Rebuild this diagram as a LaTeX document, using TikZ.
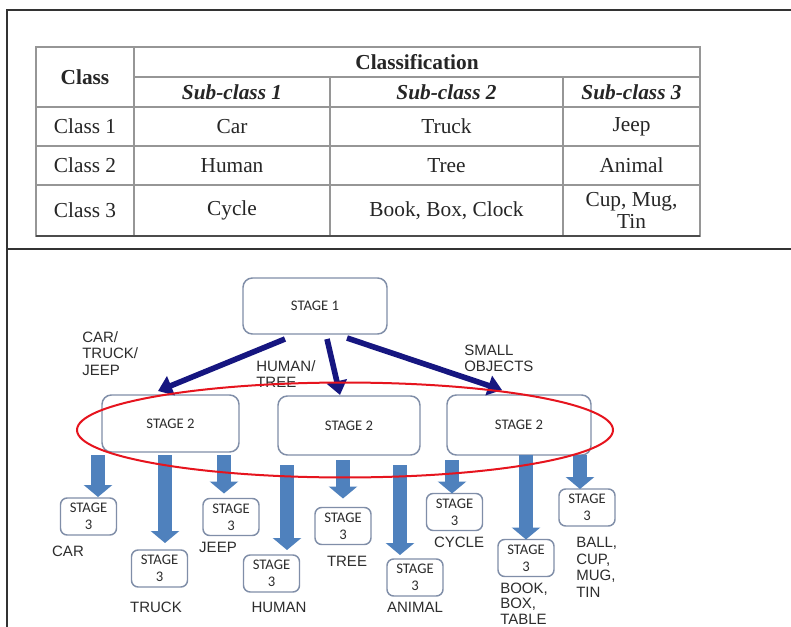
\documentclass[tikz,border=0pt]{standalone}
\usepackage{fontspec}
\setmainfont{Liberation Serif}
\newfontfamily\arialf{Liberation Sans}
\newfontfamily\calf{Carlito}
\usetikzlibrary{arrows.meta}
\definecolor{navyarr}{RGB}{22,22,128}
\definecolor{blockblue}{RGB}{79,129,189}
\definecolor{boxline}{RGB}{128,142,168}
\definecolor{tabline}{RGB}{150,150,150}
\definecolor{lbl}{RGB}{45,45,45}
\definecolor{ellred}{RGB}{230,20,30}
\begin{document}
\begin{tikzpicture}[x=0.75pt,y=-0.75pt,
  frameline/.style={line width=1.5pt,draw=black!80},
  tline/.style={draw=tabline,line width=0.8pt},
  ttext/.style={font=\fontsize{16}{16.5}\selectfont,text=black!85,inner sep=0pt,align=center},
  bigbox/.style={draw=boxline,line width=1.1pt,rounded corners=7pt,fill=white,outer sep=0pt,
    font=\calf\fontsize{11}{12.75}\selectfont,text=lbl,align=center,inner sep=0pt},
  smallbox/.style={bigbox,rounded corners=5pt,minimum width=42pt,minimum height=27.75pt},
  lab/.style={font=\arialf\fontsize{11.25}{12.4}\selectfont,text=lbl,inner sep=0pt,align=left},
  navyarrow/.style={draw=navyarr,line width=4.2pt,-{Triangle[length=10.5pt,width=15pt]}},
  blockarrow/.style={draw=blockblue,line width=10.5pt,-{Triangle[length=9pt,width=21pt]}}
]
\useasboundingbox (0,0) rectangle (791,627);
\fill[white] (0,0) rectangle (791,627);
% frame
\draw[frameline] (791,10) -- (7,10) -- (7,627);
\draw[frameline] (7,249) -- (791,249);
% table lines
\draw[tline] (36,47) rectangle (700,236);
\draw[tline] (36,47.8) -- (700,47.8);
\draw[tline] (134,47) -- (134,236);
\draw[tline] (134,77) -- (700,77);
\draw[tline] (330,77) -- (330,236);
\draw[tline] (563,77) -- (563,236);
\draw[tline] (36,107) -- (700,107);
\draw[tline] (36,146) -- (700,146);
\draw[tline] (36,185) -- (700,185);
\draw[line width=1pt,draw=black!70] (36,236) -- (700,236);
% table text
\node[ttext] (hclass) at (85,77) {\bfseries Class};
\node[ttext] (hclassif) at (417,62) {\bfseries Classification};
\node[ttext] (hs1) at (232,92) {\bfseries\itshape Sub-class 1};
\node[ttext] (hs2) at (446.5,92) {\bfseries\itshape Sub-class 2};
\node[ttext] (hs3) at (631.5,92) {\bfseries\itshape Sub-class 3};
\node[ttext] (c1) at (85,126.5) {Class 1};
\node[ttext] (c1a) at (232,126.5) {Car};
\node[ttext] (c1b) at (446.5,126.5) {Truck};
\node[ttext] (c1c) at (631.5,126.5) {Jeep};
\node[ttext] (c2) at (85,165.5) {Class 2};
\node[ttext] (c2a) at (232,165.5) {Human};
\node[ttext] (c2b) at (446.5,165.5) {Tree};
\node[ttext] (c2c) at (631.5,165.5) {Animal};
\node[ttext] (c3) at (85,210.5) {Class 3};
\node[ttext] (c3a) at (232,210.5) {Cycle};
\node[ttext] (c3b) at (446.5,210.5) {Book, Box, Clock};
\node[ttext] (c3c) at (631.5,210.5) {Cup, Mug,\\Tin};
% stage boxes
\node[bigbox,minimum width=108pt,minimum height=42pt] (S1) at (315,306) {STAGE 1};
\node[bigbox,minimum width=102.75pt,minimum height=42.75pt] (S2a) at (170.5,423.5) {STAGE 2};
\node[bigbox,minimum width=106.5pt,minimum height=44.25pt] (S2b) at (349,425.5) {STAGE 2};
\node[bigbox,minimum width=108pt,minimum height=45pt] (S2c) at (519,425) {STAGE 2};
\node[smallbox] (car) at (88.5,516.5) {STAGE\\3};
\node[smallbox] (truck) at (159.5,568.5) {STAGE\\3};
\node[smallbox] (jeep) at (231,517) {STAGE\\3};
\node[smallbox] (human) at (271.5,573.5) {STAGE\\3};
\node[smallbox] (tree) at (343,526) {STAGE\\3};
\node[smallbox] (animal) at (415,577.5) {STAGE\\3};
\node[smallbox] (cycle) at (454.5,512) {STAGE\\3};
\node[smallbox] (book) at (526,558) {STAGE\\3};
\node[smallbox] (ball) at (587,507.5) {STAGE\\3};
% navy arrows
\draw[navyarrow] ([shift={(42,5)}]S1.south west) -- ([shift={(56,-4)}]S2a.north west);
\draw[navyarrow] ([shift={(84,5)}]S1.south west) -- ([shift={(62,-1)}]S2b.north west);
\draw[navyarrow] ([shift={(104,4)}]S1.south west) -- ([shift={(55,-5)}]S2c.north west);
% block arrows
\draw[blockarrow] ([shift={(-4,3)}]S2a.south west) -- ([shift={(9.5,-1)}]car.north);
\draw[blockarrow] ([shift={(63,3)}]S2a.south west) -- ([shift={(5.5,-7)}]truck.north);
\draw[blockarrow] ([shift={(122,3)}]S2a.south west) -- ([shift={(-7,-5)}]jeep.north);
\draw[blockarrow] ([shift={(9,10)}]S2b.south west) -- ([shift={(15.5,-5)}]human.north);
\draw[blockarrow] ([shift={(65,5)}]S2b.south west) -- ([shift={(0,-9)}]tree.north);
\draw[blockarrow] ([shift={(122,10)}]S2b.south west) -- ([shift={(-15,-4)}]animal.north);
\draw[blockarrow] ([shift={(5,5)}]S2c.south west) -- ([shift={(-2.5,0)}]cycle.north);
\draw[blockarrow] ([shift={(79,0)}]S2c.south west) -- ([shift={(0,0)}]book.north);
\draw[blockarrow] ([shift={(133,0)}]S2c.south west) -- ([shift={(-7,0)}]ball.north);
% labels
\node[lab,anchor=west] (l1) at (82,353.5) {CAR/\\TRUCK/\\JEEP};
\node[lab,anchor=west] (l2) at (256,374) {HUMAN/\\TREE};
\node[lab,anchor=west] (l3) at (464,358.5) {SMALL\\OBJECTS};
\node[lab] (lcar) at (68,551) {CAR};
\node[lab] (ltruck) at (156,607) {TRUCK};
\node[lab] (ljeep) at (218,547) {JEEP};
\node[lab] (lhuman) at (279,607) {HUMAN};
\node[lab] (ltree) at (347,561) {TREE};
\node[lab] (lanimal) at (415,607) {ANIMAL};
\node[lab] (lcycle) at (459,542) {CYCLE};
\node[lab,anchor=west,font=\arialf\fontsize{11.25}{11.8}\selectfont] (lbook) at (500,603.5) {BOOK,\\BOX,\\TABLE};
\node[lab,anchor=west] (lball) at (576,567.5) {BALL,\\CUP,\\MUG,\\TIN};
% red ellipse
\draw[ellred,line width=1.5pt] (345,430) ellipse [x radius=201pt, y radius=35.6pt];
\end{tikzpicture}
\end{document}
